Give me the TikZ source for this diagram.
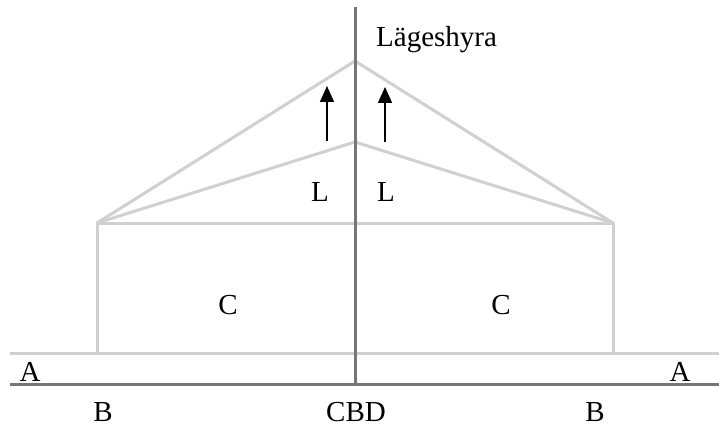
\documentclass[tikz,border=0pt]{standalone}
\usepackage{fontspec}
\setmainfont{Liberation Serif}
\usetikzlibrary{arrows.meta}
\definecolor{lightln}{HTML}{D0D0D0}
\definecolor{darkln}{HTML}{767676}
\begin{document}
\begin{tikzpicture}[x=1pt,y=-1pt,
  lite/.style={draw=lightln,line width=3pt},
  dark/.style={draw=darkln,line width=3pt},
  up/.style={draw=black,line width=1.6pt,-{Triangle[width=14pt,length=16pt]}},
  lbl/.style={font=\fontsize{29}{32}\selectfont,inner sep=0pt}]
\useasboundingbox (0,0) rectangle (719,425);
% geometry
\coordinate (axtop) at (355,7);
\coordinate (axbot) at (355,384);
\coordinate (ltop) at (10,353);
\coordinate (rtop) at (719,353);
\coordinate (lbot) at (10,384);
\coordinate (rbot) at (719,384);
\coordinate (bl) at (97,353);
\coordinate (br) at (613,353);
\coordinate (tl) at (97,223);
\coordinate (tr) at (613,223);
\coordinate (apexhi) at (355,61);
\coordinate (apexlo) at (355,142);
% light lines
\draw[lite] (ltop) -- (rtop);
\draw[lite] (bl) -- (tl) -- (tr) -- (br);
\draw[lite] (tl) -- (apexlo) -- (tr);
\draw[lite] (tl) -- (apexhi) -- (tr);
% dark lines
\draw[dark] (lbot) -- (rbot);
\draw[dark] (axtop) -- (axbot);
% arrows
\coordinate (a1s) at (327,141);
\coordinate (a1e) at (327,86);
\coordinate (a2s) at (385,142);
\coordinate (a2e) at (385,87);
\draw[up] (a1s) -- (a1e);
\draw[up] (a2s) -- (a2e);
% labels
\node[lbl,anchor=west] (rent) at (376,40) {Lägeshyra};
\node[lbl] (L1) at (320,192) {L};
\node[lbl] (L2) at (386,192) {L};
\node[lbl] (C1) at (228,305) {C};
\node[lbl] (C2) at (501,305) {C};
\node[lbl] (A1) at (30,372) {A};
\node[lbl] (A2) at (680,372) {A};
\node[lbl] (B1) at (103,412) {B};
\node[lbl] (CBD) at (356,412) {CBD};
\node[lbl] (B2) at (595,412) {B};
\end{tikzpicture}
\end{document}
